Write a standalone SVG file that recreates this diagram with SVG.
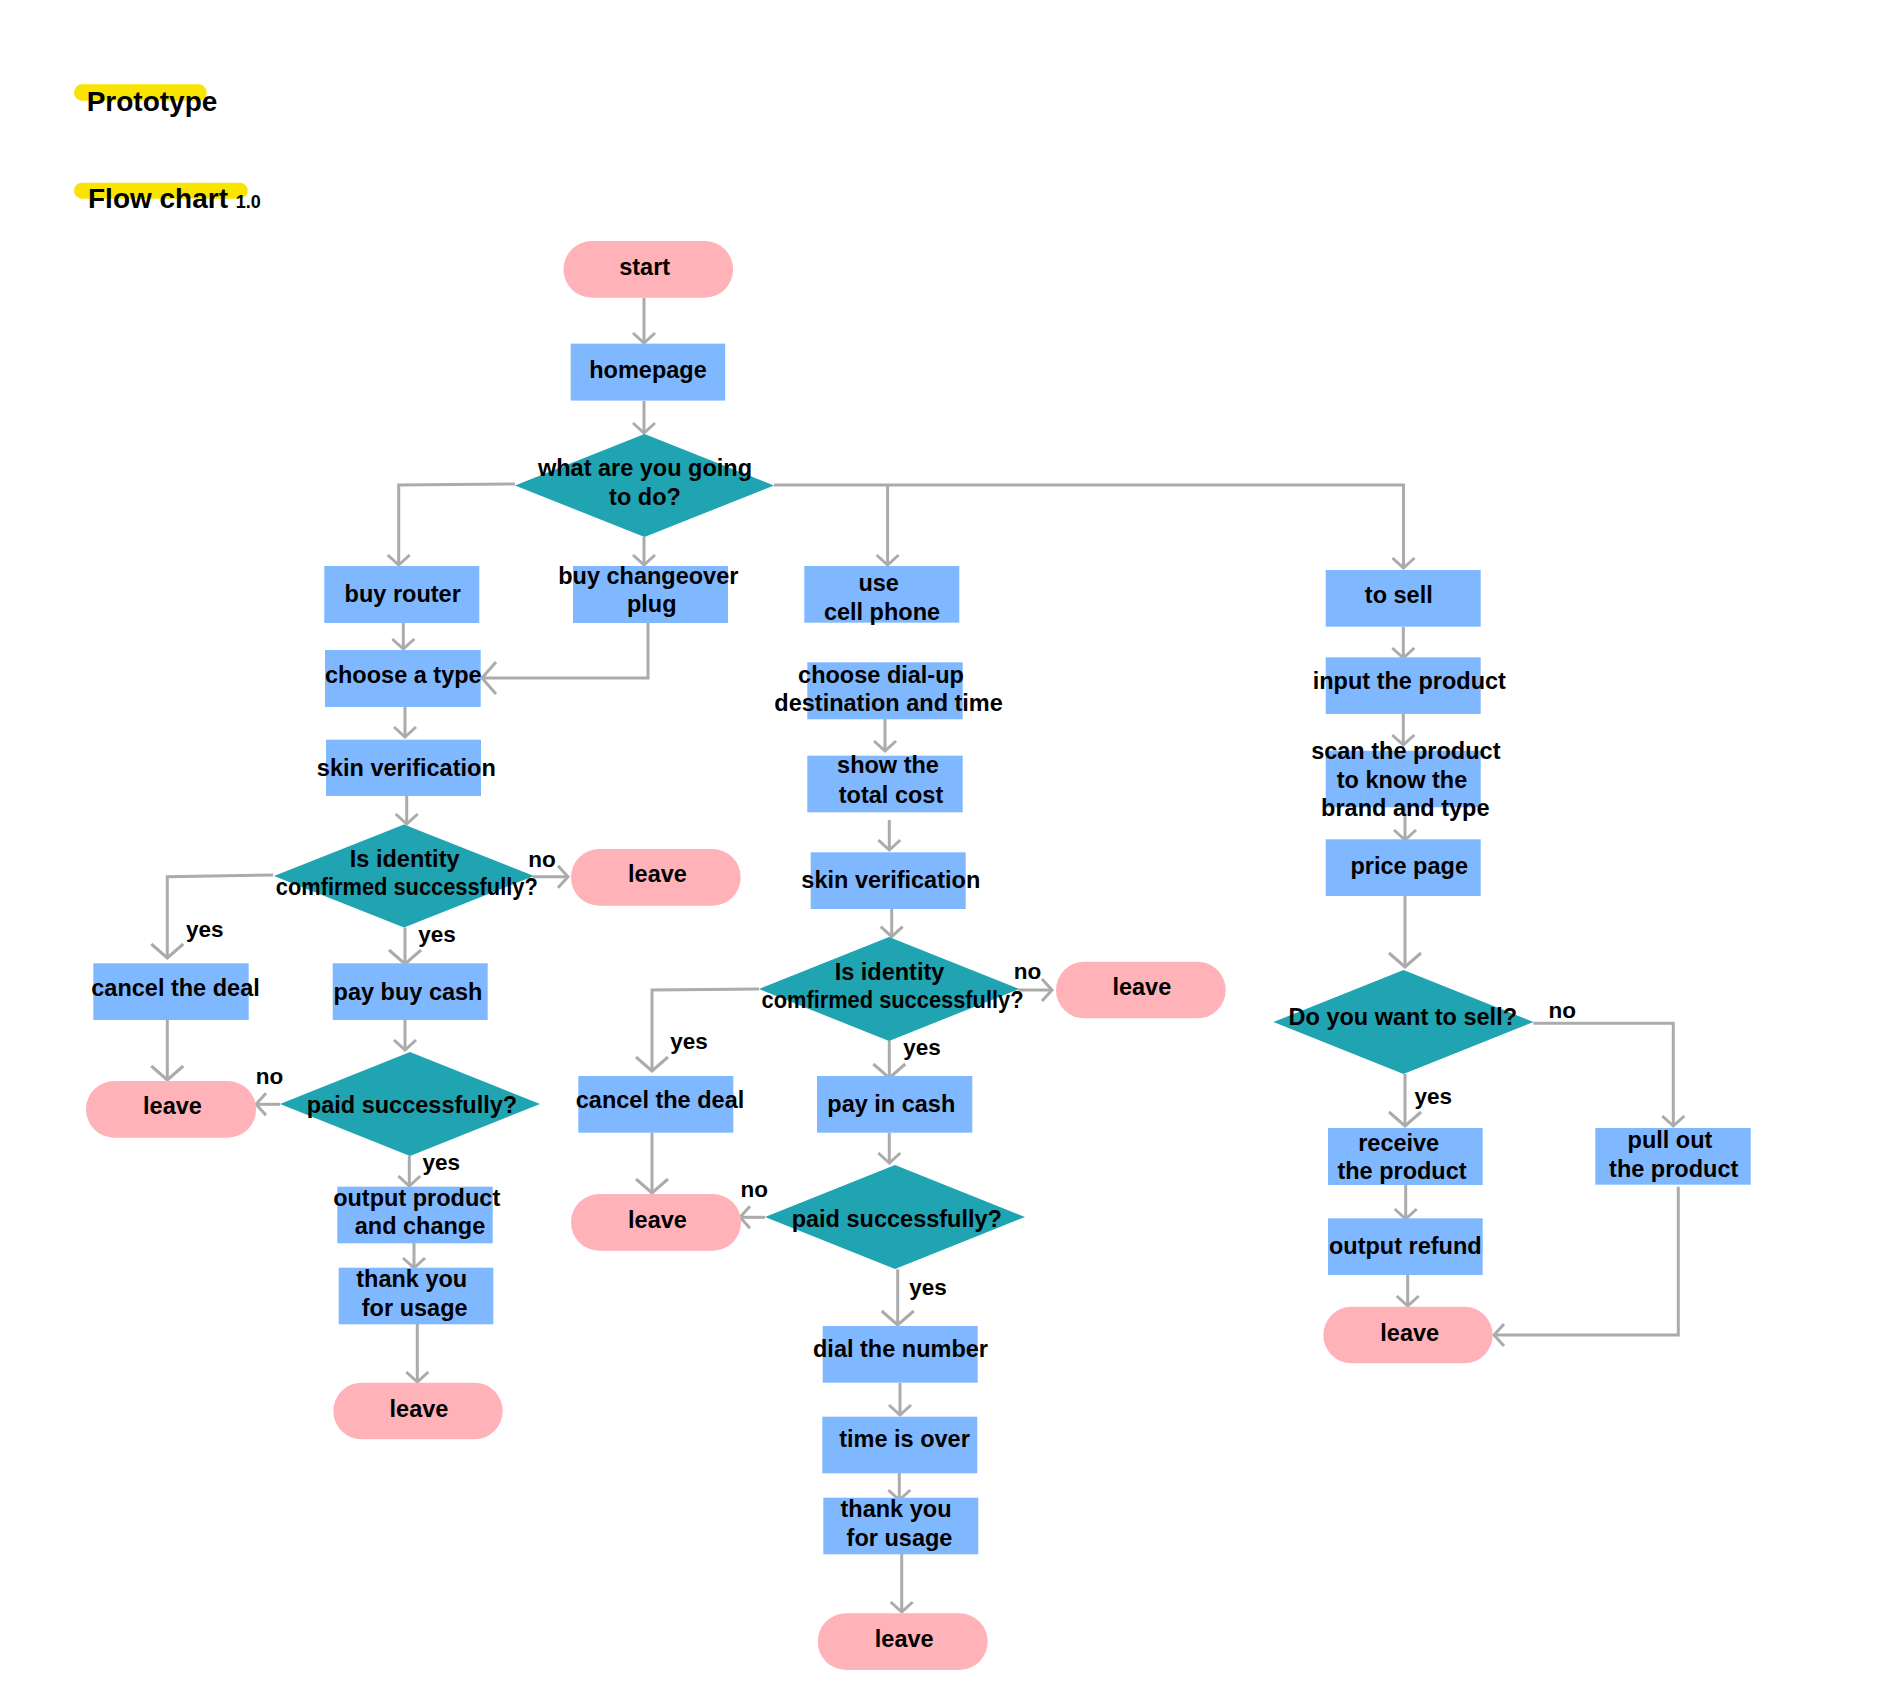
<svg xmlns="http://www.w3.org/2000/svg" width="1899" height="1697" viewBox="0 0 1899 1697">
<style>
.t{font-family:"Liberation Sans",Arial,sans-serif;font-weight:bold;font-size:23.5px;fill:#000;text-anchor:middle}
.l{font-family:"Liberation Sans",Arial,sans-serif;font-weight:bold;font-size:22.5px;fill:#000;text-anchor:middle}
.h{font-family:"Liberation Sans",Arial,sans-serif;font-weight:bold;font-size:28px;fill:#000}
.v{font-family:"Liberation Sans",Arial,sans-serif;font-weight:bold;font-size:18px;fill:#000}
.pill{fill:#FFB2B8}
.box{fill:#80B8FF}
.dia{fill:#20A4B2}
.hl{fill:#F8E400}
.c{fill:none;stroke:#ABABAB;stroke-width:3;marker-end:url(#a)}
.cl{fill:none;stroke:#ABABAB;stroke-width:3;marker-end:url(#b)}
</style>
<defs>
<marker id="a" markerUnits="userSpaceOnUse" markerWidth="30" markerHeight="30" viewBox="-15 -15 30 30" refX="0" refY="0" orient="auto" overflow="visible">
<path d="M-10,-11 L0,0 L-10,11" fill="none" stroke="#ABABAB" stroke-width="3"/>
</marker>
<marker id="b" markerUnits="userSpaceOnUse" markerWidth="40" markerHeight="40" viewBox="-20 -20 40 40" refX="0" refY="0" orient="auto" overflow="visible">
<path d="M-14,-16 L0,0 L-14,16" fill="none" stroke="#ABABAB" stroke-width="3"/>
</marker>
</defs>
<rect width="1899" height="1697" fill="#FFFFFF"/>

<g id="title">
<rect class="hl" x="74" y="84.3" width="132.7" height="16.4" rx="8"/>
<text class="h" x="86.7" y="110.7">Prototype</text>
<rect class="hl" x="74" y="182.7" width="173.7" height="16" rx="8"/>
<text class="h" x="88" y="208.3">Flow chart</text>
<text class="v" x="235.7" y="208.3">1.0</text>
</g>

<g id="connectors">
<path class="c" d="M644 298 V343"/>
<path class="c" d="M644 401 V433"/>
<path class="c" d="M515 484 L398.7 485 V565"/>
<path class="c" d="M644 537 V565"/>
<path class="c" d="M774 485 H1403.5 V568"/>
<path class="c" d="M887.6 485 V565"/>
<path class="c" d="M403.3 623 V649"/>
<path class="cl" d="M648 623 V678 H482"/>
<path class="c" d="M405 707 V737"/>
<path class="c" d="M406.7 796 V824"/>
<path class="c" d="M533 876.7 H568"/>
<path class="cl" d="M273 875 L167.3 876.7 V958"/>
<path class="cl" d="M405 927.5 V964"/>
<path class="cl" d="M167.3 1020 V1080"/>
<path class="c" d="M405 1020 V1050"/>
<path class="c" d="M280 1104.3 H256"/>
<path class="c" d="M409.3 1156 V1186"/>
<path class="c" d="M414 1243 V1268"/>
<path class="c" d="M417.3 1324 V1382"/>
<path class="c" d="M885 719 V751"/>
<path class="c" d="M889.3 820 V850"/>
<path class="c" d="M891.7 909 V936.7"/>
<path class="c" d="M1018.3 990 H1052"/>
<path class="cl" d="M759 989 L652 990 V1071"/>
<path class="cl" d="M889.3 1040.7 V1078"/>
<path class="cl" d="M652 1132.7 V1193"/>
<path class="c" d="M889.3 1132.7 V1163"/>
<path class="c" d="M765 1217.3 H740"/>
<path class="cl" d="M897.7 1269.3 V1325"/>
<path class="c" d="M900 1383 V1415"/>
<path class="c" d="M899.3 1473 V1500"/>
<path class="c" d="M901.7 1554 V1612"/>
<path class="c" d="M1403.3 627 V658"/>
<path class="c" d="M1403.3 714 V745"/>
<path class="c" d="M1405 807 V840"/>
<path class="cl" d="M1405 896 V967"/>
<path class="c" d="M1533.3 1023.3 H1673.3 V1126"/>
<path class="cl" d="M1405 1074 V1126"/>
<path class="c" d="M1405.7 1185 V1219"/>
<path class="c" d="M1407.7 1275 V1306"/>
<path class="c" d="M1678.3 1186.7 V1335 H1494"/>
</g>

<g id="labels">
<text class="l" x="542" y="866.7">no</text>
<text class="l" x="204.7" y="936.7">yes</text>
<text class="l" x="437" y="941.7">yes</text>
<text class="l" x="269.5" y="1084">no</text>
<text class="l" x="441.3" y="1170">yes</text>
<text class="l" x="1027.5" y="979">no</text>
<text class="l" x="689" y="1049">yes</text>
<text class="l" x="922" y="1055">yes</text>
<text class="l" x="754.3" y="1196.7">no</text>
<text class="l" x="928" y="1295">yes</text>
<text class="l" x="1562.3" y="1018.3">no</text>
<text class="l" x="1433.3" y="1104">yes</text>
</g>

<g id="n-start"><rect class="pill" x="563.5" y="241" width="169.6" height="56.7" rx="28.3"/><text class="t" x="644.7" y="274.7">start</text></g>
<g id="n-homepage"><rect class="box" x="570.7" y="343.6" width="154.5" height="57"/><text class="t" x="648" y="378">homepage</text></g>
<g id="n-what"><polygon class="dia" points="644.5,434 774,485.5 644.5,537 515,485.5"/><text class="t" x="645" y="476.4">what are you going</text><text class="t" x="645" y="505">to do?</text></g>

<g id="n-buyrouter"><rect class="box" x="324.3" y="566" width="155" height="57"/><text class="t" x="402.7" y="602.3">buy router</text></g>
<g id="n-buyplug"><rect class="box" x="573" y="566" width="155" height="57"/><text class="t" x="648.3" y="584.3">buy changeover</text><text class="t" x="651.7" y="611.7">plug</text></g>
<g id="n-usephone"><rect class="box" x="804.3" y="566" width="155" height="56.7"/><text class="t" x="878.7" y="590.7">use</text><text class="t" x="882" y="620">cell phone</text></g>
<g id="n-tosell"><rect class="box" x="1325.7" y="570" width="155" height="56.7"/><text class="t" x="1398.8" y="602.7">to sell</text></g>

<g id="n-choosetype"><rect class="box" x="325" y="650" width="155.7" height="57"/><text class="t" x="403.3" y="682.7">choose a type</text></g>
<g id="n-skin1"><rect class="box" x="326" y="739.7" width="155" height="56.3"/><text class="t" x="406.3" y="775.7">skin verification</text></g>
<g id="n-id1"><polygon class="dia" points="404,824.5 534,876 404,927.5 274,876"/><text class="t" x="404.7" y="866.7">Is identity</text><text class="t" x="406.8" y="895" textLength="262" lengthAdjust="spacingAndGlyphs">comfirmed successfully?</text></g>
<g id="n-leave1"><rect class="pill" x="571" y="849" width="169.7" height="56.7" rx="28.3"/><text class="t" x="657.5" y="882.3">leave</text></g>
<g id="n-cancel1"><rect class="box" x="93.3" y="963.3" width="155.4" height="56.7"/><text class="t" x="175.5" y="996">cancel the deal</text></g>
<g id="n-paybuy"><rect class="box" x="332.7" y="963.3" width="155" height="56.7"/><text class="t" x="408" y="1000">pay buy cash</text></g>
<g id="n-leave2"><rect class="pill" x="86" y="1081" width="170" height="56.7" rx="28.3"/><text class="t" x="172.5" y="1114.3">leave</text></g>
<g id="n-paid1"><polygon class="dia" points="410,1052 540,1104 410,1156 280,1104"/><text class="t" x="412" y="1113.3">paid successfully?</text></g>
<g id="n-output"><rect class="box" x="337.3" y="1186.7" width="155.4" height="56.6"/><text class="t" x="416.7" y="1206">output product</text><text class="t" x="420" y="1234">and change</text></g>
<g id="n-thanks1"><rect class="box" x="338.7" y="1267.7" width="154.6" height="56.6"/><text class="t" x="411.7" y="1287.3">thank you</text><text class="t" x="414.7" y="1316">for usage</text></g>
<g id="n-leave3"><rect class="pill" x="333.3" y="1382.7" width="169.4" height="56.6" rx="28.3"/><text class="t" x="419" y="1416.7">leave</text></g>

<g id="n-dialup"><rect class="box" x="807.3" y="662.3" width="155.4" height="57"/><text class="t" x="881" y="682.7">choose dial-up</text><text class="t" x="888.6" y="710.7">destination and time</text></g>
<g id="n-cost"><rect class="box" x="807.3" y="755.7" width="155.4" height="56.6"/><text class="t" x="888" y="773.3">show the</text><text class="t" x="891" y="802.7">total cost</text></g>
<g id="n-skin2"><rect class="box" x="810.7" y="852.3" width="155" height="56.7"/><text class="t" x="890.8" y="888.3">skin verification</text></g>
<g id="n-id2"><polygon class="dia" points="889,937 1019,989 889,1041 759,989"/><text class="t" x="889.5" y="980">Is identity</text><text class="t" x="892.5" y="1008.3" textLength="262" lengthAdjust="spacingAndGlyphs">comfirmed successfully?</text></g>
<g id="n-leave4"><rect class="pill" x="1056" y="961.7" width="169.7" height="56.6" rx="28.3"/><text class="t" x="1141.8" y="995">leave</text></g>
<g id="n-cancel2"><rect class="box" x="578.3" y="1076" width="155" height="56.7"/><text class="t" x="660" y="1108.3">cancel the deal</text></g>
<g id="n-paycash"><rect class="box" x="817" y="1076" width="155.3" height="56.7"/><text class="t" x="891.3" y="1112.3">pay in cash</text></g>
<g id="n-leave5"><rect class="pill" x="571" y="1194" width="170" height="56.7" rx="28.3"/><text class="t" x="657.5" y="1227.7">leave</text></g>
<g id="n-paid2"><polygon class="dia" points="895,1165 1025,1217 895,1269 765,1217"/><text class="t" x="896.8" y="1226.7">paid successfully?</text></g>
<g id="n-dial"><rect class="box" x="822.7" y="1326" width="155" height="56.7"/><text class="t" x="900.5" y="1356.7">dial the number</text></g>
<g id="n-timeover"><rect class="box" x="822.3" y="1416.7" width="155" height="56.6"/><text class="t" x="904.5" y="1446.7">time is over</text></g>
<g id="n-thanks2"><rect class="box" x="823.3" y="1497.7" width="155" height="56.6"/><text class="t" x="896" y="1517.3">thank you</text><text class="t" x="899.5" y="1545.7">for usage</text></g>
<g id="n-leave6"><rect class="pill" x="817.7" y="1613.3" width="170" height="56.7" rx="28.3"/><text class="t" x="904.2" y="1646.7">leave</text></g>

<g id="n-input"><rect class="box" x="1325.7" y="657.3" width="155" height="56.7"/><text class="t" x="1409.3" y="689.3">input the product</text></g>
<g id="n-scan"><rect class="box" x="1325.7" y="750.7" width="155" height="56.6"/><text class="t" x="1405.8" y="759.3">scan the product</text><text class="t" x="1402" y="787.7">to know the</text><text class="t" x="1405.3" y="816">brand and type</text></g>
<g id="n-price"><rect class="box" x="1325.7" y="839.3" width="155" height="56.7"/><text class="t" x="1409.2" y="874">price page</text></g>
<g id="n-wantsell"><polygon class="dia" points="1403.5,970 1533.5,1022 1403.5,1074 1273.5,1022"/><text class="t" x="1402.8" y="1025">Do you want to sell?</text></g>
<g id="n-receive"><rect class="box" x="1328" y="1128" width="154.7" height="57"/><text class="t" x="1398.7" y="1150.7">receive</text><text class="t" x="1402" y="1179.3">the product</text></g>
<g id="n-pullout"><rect class="box" x="1595.3" y="1128" width="155.4" height="56.7"/><text class="t" x="1670" y="1148.3">pull out</text><text class="t" x="1673.7" y="1176.7">the product</text></g>
<g id="n-refund"><rect class="box" x="1328" y="1218.3" width="154.7" height="56.7"/><text class="t" x="1405.3" y="1254">output refund</text></g>
<g id="n-leave7"><rect class="pill" x="1323.3" y="1306.7" width="169.4" height="56.6" rx="28.3"/><text class="t" x="1409.7" y="1341">leave</text></g>
</svg>
